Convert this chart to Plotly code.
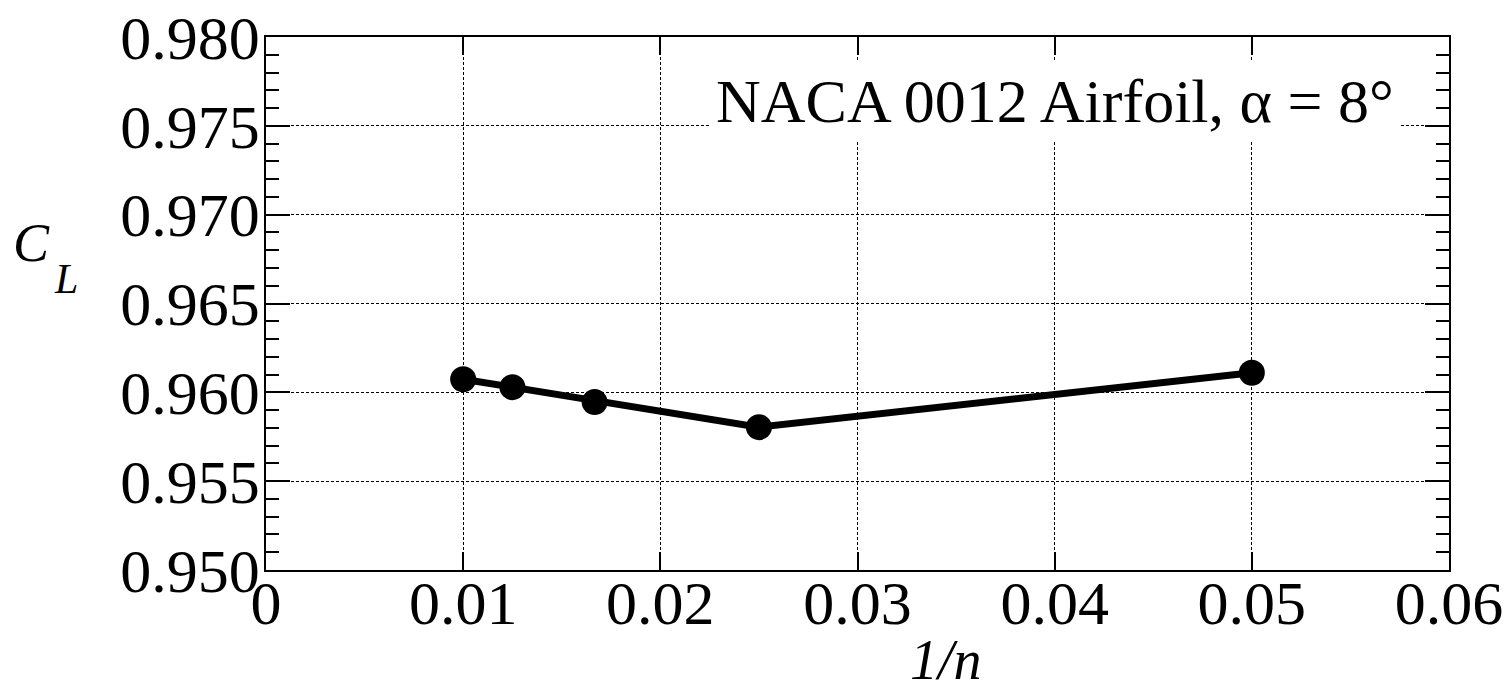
import plotly.graph_objects as go

# Data
inv_n = [0.01, 0.0125, 1/60, 0.025, 0.05]
cl = [0.96074, 0.96029, 0.95945, 0.95804, 0.96110]

x_ticks = [0, 0.01, 0.02, 0.03, 0.04, 0.05, 0.06]
x_labels = ["0", "0.01", "0.02", "0.03", "0.04", "0.05", "0.06"]
y_ticks = [0.950, 0.955, 0.960, 0.965, 0.970, 0.975, 0.980]
y_labels = [f"{v:.3f}" for v in y_ticks]

title_text = "NACA 0012 Airfoil, \u03b1 = 8\u00b0"

FONT = "Liberation Serif, Times New Roman, serif"

L, R, T, B = 266, 62, 37, 120
W, H = 1511, 690
pw, ph = W - L - R, H - T - B


def px_to_paper(px, py):
    return (px - L) / pw, (H - py - B) / ph


fig = go.Figure()
fig.add_trace(go.Scatter(
    x=inv_n, y=cl, mode="lines+markers",
    line=dict(color="black", width=7),
    marker=dict(color="black", size=26),
    showlegend=False,
))

axis_common = dict(
    showline=True, linecolor="black", linewidth=1.5, mirror="ticks",
    ticks="inside", tickcolor="black", tickwidth=1.5,
    showgrid=True, gridcolor="black", gridwidth=1, griddash="3px,2px",
    zeroline=False, automargin=False,
    tickfont=dict(family=FONT, size=62, color="black"),
)

fig.update_xaxes(
    range=[0, 0.06], tickvals=x_ticks, ticktext=x_labels,
    ticklen=18, ticklabelstandoff=-22, **axis_common,
)
fig.update_yaxes(
    range=[0.950, 0.980], tickvals=y_ticks, ticktext=y_labels,
    ticklen=24, ticklabelstandoff=-8,
    minor=dict(dtick=0.001, ticks="inside", ticklen=13, tickcolor="black",
               tickwidth=1.5, showgrid=False),
    **axis_common,
)

fig.add_annotation(
    x=0.04, y=0.97642, xref="x", yref="y", text=title_text,
    showarrow=False, bgcolor="white", borderpad=5,
    font=dict(family=FONT, size=62, color="black"),
    xanchor="center", yanchor="middle",
)

tx, ty = px_to_paper(946, 660)
fig.add_annotation(
    x=tx, y=ty, xref="paper", yref="paper", text="<i>1/n</i>",
    showarrow=False, font=dict(family=FONT, size=56, color="black"),
    xanchor="center", yanchor="middle",
)
cx, cy = px_to_paper(31, 243)
fig.add_annotation(
    x=cx, y=cy, xref="paper", yref="paper", text="<i>C</i>",
    showarrow=False, font=dict(family=FONT, size=54, color="black"),
    xanchor="center", yanchor="middle",
)
lx, ly = px_to_paper(66, 279)
fig.add_annotation(
    x=lx, y=ly, xref="paper", yref="paper", text="<i>L</i>",
    showarrow=False, font=dict(family=FONT, size=42, color="black"),
    xanchor="center", yanchor="middle",
)

fig.update_layout(
    width=W, height=H,
    margin=dict(l=L, r=R, t=T, b=B, autoexpand=False),
    plot_bgcolor="white", paper_bgcolor="white",
    font=dict(family=FONT, color="black"),
)

fig.write_html("out.html")
